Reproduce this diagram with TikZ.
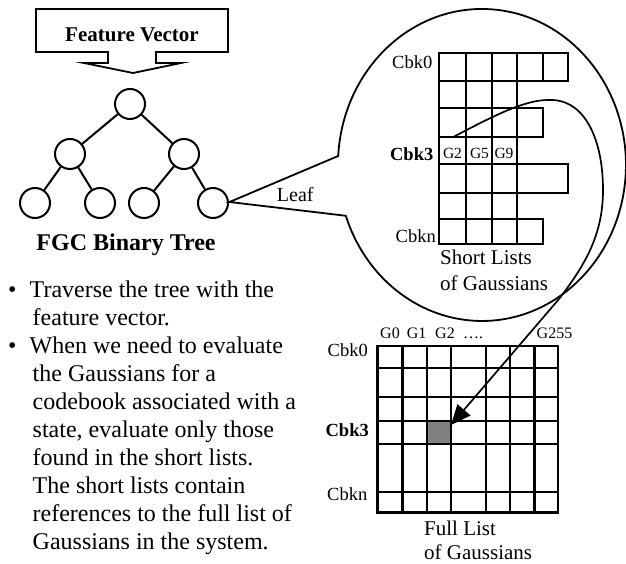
\documentclass[tikz,border=0pt]{standalone}
\usepackage{fontspec}
\setmainfont{Liberation Serif}
\usetikzlibrary{arrows.meta}
\begin{document}
\begin{tikzpicture}[x=1pt,y=-1pt,
  treenode/.style={circle,draw,line width=2pt,minimum size=30pt,inner sep=0pt},
  edge/.style={line width=2pt},
  gridline/.style={line width=2.4pt,line cap=rect},
  cell/.style={line width=2.2pt},
  outline/.style={line width=1.8pt},
  body/.style={font=\fontsize{24}{28}\selectfont,anchor=base west,inner sep=0pt},
  cbk/.style={font=\fontsize{18.5}{20}\selectfont,anchor=base east,inner sep=0pt},
  glab/.style={font=\fontsize{16}{18}\selectfont,anchor=base,inner sep=0pt},
  capt/.style={font=\fontsize{21}{24}\selectfont,anchor=base west,inner sep=0pt},
]
\useasboundingbox (0,0) rectangle (626,564);

% Feature vector arrow box
\draw[outline] (36,9) -- (228,9) -- (228,52) -- (156,52) -- (156,63) -- (181,63) -- (133,73)
  -- (84,63) -- (108,63) -- (108,52) -- (36,52) -- cycle;
\node[font=\bfseries\fontsize{21}{24}\selectfont,anchor=base,inner sep=0pt] (fv) at (132,41.7) {Feature Vector};

% Tree
\node[treenode] (r) at (130,104) {};
\node[treenode] (a) at (70,154) {};
\node[treenode] (b) at (184,154) {};
\node[treenode] (l1) at (35,203) {};
\node[treenode] (l2) at (100,203) {};
\node[treenode] (l3) at (144,203) {};
\node[treenode] (l4) at (213,203) {};
\draw[edge] (r) -- (a);
\draw[edge] (r) -- (b);
\draw[edge] (a) -- (l1);
\draw[edge] (a) -- (l2);
\draw[edge] (b) -- (l3);
\draw[edge] (b) -- (l4);
\node[font=\bfseries\fontsize{24}{28}\selectfont,anchor=base,inner sep=0pt] (fgc) at (126,250.7) {FGC Binary Tree};

% Callout ellipse
\coordinate (tip) at (229.5,202);
\coordinate (ea) at (338.2,156);
\draw[outline] (tip) -- (ea) arc[start angle=183.3,end angle=521,x radius=144,y radius=156] -- cycle;
\node[font=\fontsize{20}{22}\selectfont,anchor=base west,inner sep=0pt] (leaf) at (276.7,201.7) {Leaf};

% Short lists
\foreach \a/\b in {439.3/466,466/491.7,491.7/517.3,517.3/542.7,542.7/567.7}
  \draw[cell] (\a,53.3) rectangle (\b,80.7);
\foreach \a/\b in {439.3/466,466/491.7,491.7/517.3}
  \draw[cell] (\a,80.7) rectangle (\b,108.3);
\foreach \a/\b in {439.3/466,466/491.7,491.7/517.3,517.3/542.7}
  \draw[cell] (\a,108.3) rectangle (\b,136.7);
\foreach \a/\b in {439.3/466,466/491.7,491.7/517.3}
  \draw[cell] (\a,136.7) rectangle (\b,164.3);
\foreach \a/\b in {439.3/466,466/491.7,491.7/517.3,517.3/567.7}
  \draw[cell] (\a,164.3) rectangle (\b,192.7);
\foreach \a/\b in {439.3/466,466/491.7,491.7/517.3}
  \draw[cell] (\a,192.7) rectangle (\b,219.3);
\foreach \a/\b in {439.3/466,466/491.7,491.7/517.3,517.3/542.7}
  \draw[cell] (\a,219.3) rectangle (\b,244.3);
\node[glab,font=\fontsize{15.5}{18}\selectfont] (g2) at (452.5,158.3) {G2};
\node[glab,font=\fontsize{15.5}{18}\selectfont] (g5) at (479.5,158.3) {G5};
\node[glab,font=\fontsize{15.5}{18}\selectfont] (g9) at (504,158.3) {G9};
\node[cbk] (s0) at (432.5,68.3) {Cbk0};
\node[cbk,font=\bfseries\fontsize{18.5}{20}\selectfont] (s3) at (433.5,160.7) {Cbk3};
\node[cbk] (sn) at (436,242.7) {Cbkn};
\node[capt] (sl1) at (440,264) {Short Lists};
\node[capt] (sl2) at (440,290) {of Gaussians};

% Full list grid
\fill[gray] (426.7,421) rectangle (451,444);
\foreach \x in {377.3,402.3,426.7,451,485.7,510,534.3,557.7}
  \draw[gridline] (\x,346) -- (\x,512.3);
\foreach \y in {346,367.7,396.7,421,444,492,512.3}
  \draw[gridline] (377.3,\y) -- (557.7,\y);
\node[glab] (h0) at (390,338.3) {G0};
\node[glab] (h1) at (416.7,338.3) {G1};
\node[glab] (h2) at (445,338.3) {G2};
\node[glab,anchor=base west] (hd) at (463,338.3) {….};
\node[glab] (h255) at (554.5,338.3) {G255};
\node[cbk] (f0) at (368,356.7) {Cbk0};
\node[cbk,font=\bfseries\fontsize{18.5}{20}\selectfont] (f3) at (369,436.7) {Cbk3};
\node[cbk] (fn) at (367.5,500) {Cbkn};
\node[capt] (fl1) at (424,535.7) {Full List};
\node[capt] (fl2) at (424,559.3) {of Gaussians};

% Reference curve
\coordinate (cs) at (452.7,137.3);
\coordinate (ce) at (451,425);
\draw[line width=1.7pt,-{Triangle[length=20pt,width=17pt]}] (cs)
  .. controls (495,115) and (525,100) .. (548,100)
  .. controls (585,98) and (603,140) .. (603,190)
  .. controls (603,235) and (585,265) .. (559,299) -- (ce);

% Bullet text
\node[body] (b1) at (8,297) {•};
\node[body] (t1) at (29.5,297) {Traverse the tree with the};
\node[body] (t2) at (32.5,325) {feature vector.};
\node[body] (b2) at (8,353.1) {•};
\node[body] (t3) at (29.5,353.1) {When we need to evaluate};
\node[body] (t4) at (32.5,381.1) {the Gaussians for a};
\node[body] (t5) at (32.5,409.1) {codebook associated with a};
\node[body] (t6) at (32.5,437.2) {state, evaluate only those};
\node[body] (t7) at (32.5,465.2) {found in the short lists.};
\node[body] (t8) at (32.5,493.2) {The short lists contain};
\node[body] (t9) at (32.5,521.3) {references to the full list of};
\node[body] (t10) at (32.5,549.3) {Gaussians in the system.};
\end{tikzpicture}
\end{document}
